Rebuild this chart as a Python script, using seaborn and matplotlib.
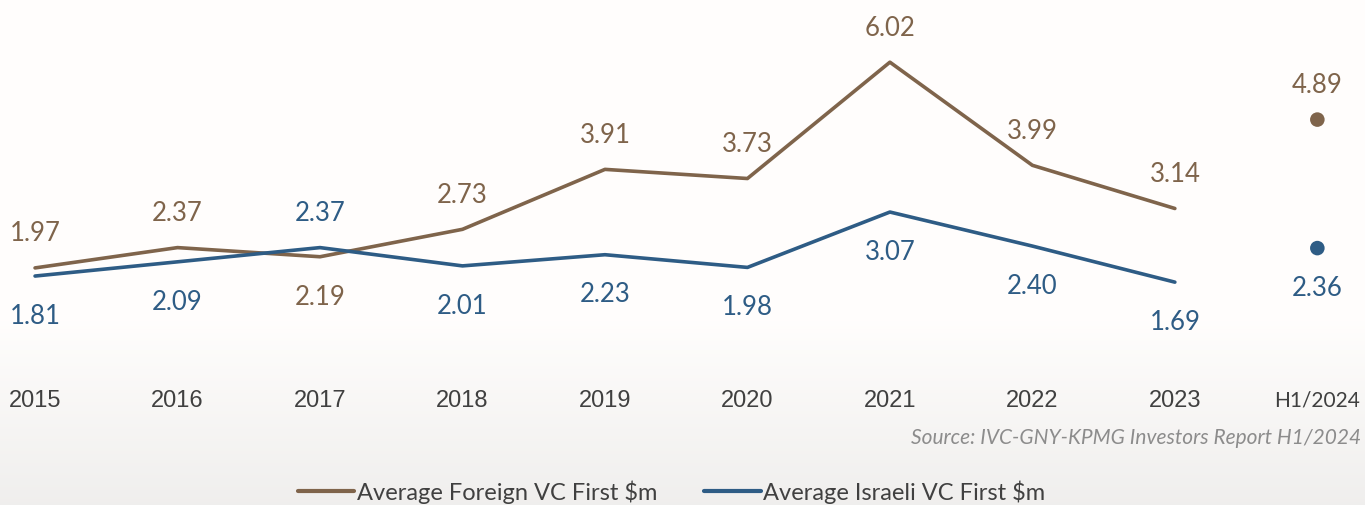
import numpy as np
import pandas as pd
import seaborn as sns
import matplotlib.pyplot as plt
from matplotlib.lines import Line2D

# values
years = ['2015', '2016', '2017', '2018', '2019', '2020', '2021', '2022', '2023']
h1_label = 'H1/2024'
foreign = [1.97, 2.37, 2.19, 2.73, 3.91, 3.73, 6.02, 3.99, 3.14]
israeli = [1.81, 2.09, 2.37, 2.01, 2.23, 1.98, 3.07, 2.40, 1.69]
foreign_h1 = 4.89
israeli_h1 = 2.36

# which labels sit above the line (True) or below (False)
foreign_above = [True, True, False, True, True, True, True, True, True]
israeli_above = [False, False, True, False, False, False, False, False, False]

brown = '#7F644B'
blue = '#2E5C85'

sns.set_theme(style='white')
plt.rcParams['font.family'] = ['Lato', 'DejaVu Sans']

fig = plt.figure(figsize=(13.65, 5.05), dpi=100)

# soft grey gradient in the lower part of the figure
bg = fig.add_axes([0, 0, 1, 1], zorder=-10)
grad = np.ones((505, 1))
rows = np.arange(505)
start = 320
grad[start:, 0] = 1 - (rows[start:] - start) / (505 - start) * 0.06
bg.imshow(np.dstack([grad, grad * 0.995, grad * 0.99]), aspect='auto', extent=[0, 1, 0, 1])
bg.axis('off')

ax = fig.add_axes([0.0048, 0.2713, 0.9916, 0.6639])
ax.patch.set_alpha(0)

x = np.arange(len(years))
df = pd.DataFrame({'x': np.concatenate([x, x]),
                   'value': foreign + israeli,
                   'series': ['Foreign'] * len(x) + ['Israeli'] * len(x)})
sns.lineplot(data=df, x='x', y='value', hue='series',
             palette={'Foreign': brown, 'Israeli': blue},
             linewidth=2.6, legend=False, ax=ax)

h1 = pd.DataFrame({'x': [len(years), len(years)], 'value': [foreign_h1, israeli_h1],
                   'series': ['Foreign', 'Israeli']})
sns.scatterplot(data=h1, x='x', y='value', hue='series',
                palette={'Foreign': brown, 'Israeli': blue},
                s=110, edgecolor='none', legend=False, ax=ax)

def label(xi, v, up, color):
    ax.annotate(f'{v:.2f}', (xi, v), xytext=(0, 24.5 if up else -29),
                textcoords='offset points', ha='center', va='center',
                fontsize=18.5, color=color, annotation_clip=False)

for i in range(len(years)):
    label(i, foreign[i], foreign_above[i], brown)
    label(i, israeli[i], israeli_above[i], blue)
label(len(years), foreign_h1, True, brown)
label(len(years), israeli_h1, False, blue)

ax.set_xlim(-0.2, 9.3)
ax.set_ylim(0, 6.6)
ax.set_xticks(list(x) + [len(years)])
ax.set_xticklabels(years + [h1_label])
for t in ax.get_xticklabels()[:-1]:
    t.set_fontfamily('Liberation Sans')
    t.set_fontsize(17)
ax.get_xticklabels()[-1].set_fontsize(15)
ax.tick_params(axis='x', length=0, pad=16, colors='#404040')
ax.set_yticks([])
ax.set_xlabel('')
ax.set_ylabel('')
sns.despine(ax=ax, left=True, bottom=True)

fig.text(0.997, 0.133, 'Source: IVC-GNY-KPMG Investors Report H1/2024',
         ha='right', va='center', fontsize=15, style='italic', color='#8C8C8C')

handles = [Line2D([], [], color=brown, lw=3), Line2D([], [], color=blue, lw=3)]
fig.legend(handles, ['Average Foreign VC First $m', 'Average Israeli VC First $m'],
           loc='center', bbox_to_anchor=(0.492, 0.026), ncol=2, frameon=False,
           fontsize=17, handlelength=2.4, handletextpad=0.1, columnspacing=2.0,
           labelcolor='#404040')

fig.savefig('out.png', dpi=100)
